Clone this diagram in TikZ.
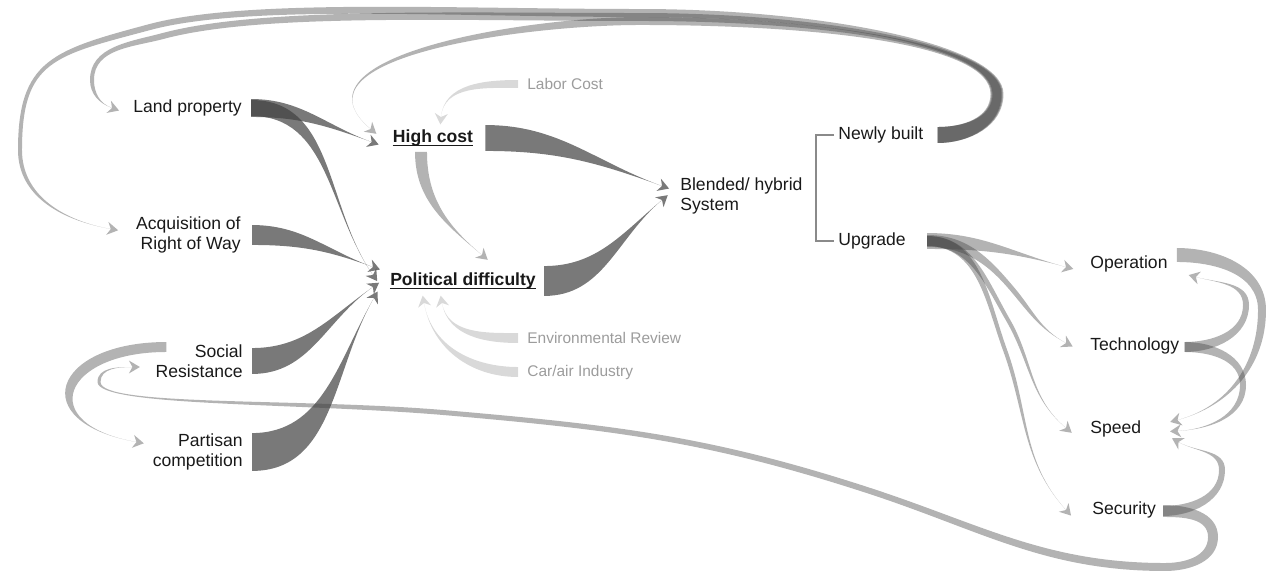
\documentclass[tikz,border=0pt]{standalone}
\usepackage{fontspec}
\setmainfont{Liberation Sans}
\usetikzlibrary{calc}
\definecolor{flowgray}{HTML}{404040}
\definecolor{labelgray}{HTML}{9C9C9C}
\definecolor{bracketgray}{HTML}{8A8A8A}

\tikzset{chev/.pic={\fill (-3.5,-6.5) -- (7.5,0) -- (-3.5,6.5) -- (0,0) -- cycle;}}

% left/right edge points of a band at a waypoint
\newcommand{\wpt}[4]{%
  \coordinate (#1l) at ($(#2)+({#3+90}:{#4*0.5669pt})$);%
  \coordinate (#1r) at ($(#2)+({#3-90}:{#4*0.5669pt})$);}

% tapered band: [to options]{style}{from}{heading}{half width}{to}{heading}
\newcommand{\flow}[7][]{%
  \pgfmathsetmacro\flowback{#7+180}%
  \begin{scope}[flowband,#2]
    \fill ($(#3)+({#4+90}:{#5*0.5669pt})$) to[out=#4,in=\flowback,#1] (#6)
      to[out=\flowback,in=#4,#1] ($(#3)+({#4-90}:{#5*0.5669pt})$) -- cycle;
    \pic[rotate=#7] at (#6) {chev};
  \end{scope}}

% tapered band through one waypoint
\newcommand{\loopflow}[9]{%
  \pgfmathsetmacro\flowmid{#6+180}\pgfmathsetmacro\flowback{#9+180}%
  \begin{scope}[flowband,#1]
    \wpt{lfa}{#2}{#3}{#4}\wpt{lfb}{#5}{#6}{#7}
    \fill (lfal) to[out=#3,in=\flowmid] (lfbl) to[out=#6,in=\flowback] (#8)
      to[out=\flowback,in=#6] (lfbr) to[out=\flowmid,in=#3] (lfar) -- cycle;
    \pic[rotate=#9] at (#8) {chev};
  \end{scope}}

\begin{document}
\begin{tikzpicture}[x=0.02cm,y=-0.02cm,
  lbl/.style={font=\fontsize{10}{11.5}\selectfont,inner sep=0pt,text=black!90},
  key/.style={font=\fontsize{10}{11.5}\selectfont\bfseries,inner sep=0pt,text=black!90},
  minor/.style={font=\fontsize{8.8}{10}\selectfont,inner sep=0pt,text=labelgray},
  uline/.style={draw=black!90,line width=0.8pt},
  darkflow/.style={fill opacity=0.7},
  midflow/.style={fill opacity=0.4},
  paleflow/.style={fill opacity=0.2},
  flowband/.style={fill=flowgray},
  bracket/.style={draw=bracketgray,line width=0.6pt}]
\useasboundingbox (0,0) rectangle (1266,574);

\node[lbl,anchor=west] (land) at (133,108) {Land property};
\node[lbl,anchor=east,align=right] (acq) at (241,235) {Acquisition of\\Right of Way};
\node[lbl,anchor=east,align=right] (social) at (243,361) {Social\\Resistance};
\node[lbl,anchor=east,align=right] (partisan) at (243,452) {Partisan\\competition};
\node[key] (hcost) at (433,138) {High cost};
\node[key] (pol) at (463,281) {Political difficulty};
\node[minor,anchor=west] (labor) at (527,84) {Labor Cost};
\node[minor,anchor=west] (env) at (527,338) {Environmental Review};
\node[minor,anchor=west] (car) at (527,372) {Car/air Industry};
\node[lbl,anchor=west,align=left] (blend) at (680,196) {Blended/ hybrid\\System};
\node[lbl,anchor=west] (newly) at (838,135) {Newly built};
\node[lbl,anchor=west] (upgrade) at (838,241) {Upgrade};
\node[lbl,anchor=west] (operation) at (1090,264) {Operation};
\node[lbl,anchor=west] (technology) at (1090,346) {Technology};
\node[lbl,anchor=west] (speed) at (1090,429) {Speed};
\node[lbl,anchor=west] (security) at (1092,510) {Security};

\draw[uline] ($(hcost.base west)+(0,3)$) -- ($(hcost.base east)+(0,3)$);
\draw[uline] ($(pol.base west)+(0,3)$) -- ($(pol.base east)+(0,3)$);
\draw[bracket] ($(newly.west)+(-4,0)$) -- ++(-18,0) |- ($(upgrade.west)+(-4,0)$);

\coordinate (lp-o) at ($(land.east)+(9,0)$);
\coordinate (lp-i) at ($(land.west)+(-21,0)$);
\coordinate (acq-o) at ($(acq.east)+(11,0)$);
\coordinate (acq-i) at ($(acq.west)+(-25,-6)$);
\coordinate (soc-o) at ($(social.east)+(9,0)$);
\coordinate (soc-l) at ($(social.west)+(11,-14)$);
\coordinate (soc-i) at ($(social.west)+(-23,6)$);
\coordinate (par-o) at ($(partisan.east)+(9,0)$);
\coordinate (par-i) at ($(partisan.west)+(-16,-10)$);
\coordinate (hc-o) at ($(hcost.east)+(12,0)$);
\coordinate (hc-d) at ($(hcost.center)+(-12,14)$);
\coordinate (hc-i1) at ($(hcost.west)+(-22,-9)$);
\coordinate (hc-i2) at ($(hcost.west)+(-21,4)$);
\coordinate (hc-i3) at ($(hcost.center)+(8,-21)$);
\coordinate (lab-o) at ($(labor.west)+(-9,0)$);
\coordinate (pd-o) at ($(pol.east)+(8,0)$);
\coordinate (pd-i1) at ($(pol.west)+(-17,-14)$);
\coordinate (pd-i2) at ($(pol.west)+(-17,-6)$);
\coordinate (pd-i3) at ($(pol.west)+(-17,6)$);
\coordinate (pd-i4) at ($(pol.west)+(-16,17)$);
\coordinate (pd-i5) at ($(pol.center)+(19,-26)$);
\coordinate (pd-i6) at ($(pol.center)+(-21,22)$);
\coordinate (pd-i7) at ($(pol.center)+(-39,22)$);
\coordinate (env-o) at ($(env.west)+(-9,0)$);
\coordinate (car-o) at ($(car.west)+(-9,0)$);
\coordinate (bl-i1) at ($(blend.west)+(-18,-10)$);
\coordinate (bl-i2) at ($(blend.west)+(-18,4)$);
\coordinate (nb-o) at ($(newly.east)+(14,0)$);
\coordinate (up-o) at ($(upgrade.east)+(21,0)$);
\coordinate (op-o) at ($(operation.east)+(9,-9)$);
\coordinate (op-i) at ($(operation.west)+(-24,3)$);
\coordinate (op-i2) at ($(operation.east)+(28,13)$);
\coordinate (tech-o) at ($(technology.east)+(5,1)$);
\coordinate (tech-i) at ($(technology.west)+(-24,-3)$);
\coordinate (sp-i) at ($(speed.west)+(-24,-1)$);
\coordinate (sp-i1) at ($(speed.east)+(36,-9)$);
\coordinate (sp-i2) at ($(speed.east)+(36,2)$);
\coordinate (sp-i3) at ($(speed.east)+(37,13)$);
\coordinate (sec-o) at ($(security.east)+(7,1)$);
\coordinate (sec-i) at ($(security.west)+(-26,0)$);

% causes
\flow{darkflow}{lp-o}{0}{9}{hc-i2}{-20}
\flow{darkflow}{lp-o}{0}{8}{pd-i2}{-55}
\flow{darkflow}{acq-o}{0}{10}{pd-i1}{-20}
\flow{darkflow}{soc-o}{0}{13}{pd-i3}{35}
\flow{darkflow}{par-o}{0}{19}{pd-i4}{60}
\flow{darkflow}{hc-o}{0}{13}{bl-i1}{-20}
\flow{darkflow}{pd-o}{0}{15}{bl-i2}{40}
\flow{midflow}{hc-d}{270}{6}{pd-i5}{-40}
\flow{paleflow}{lab-o}{180}{4}{hc-i3}{265}
\flow{paleflow}{env-o}{180}{5}{pd-i6}{100}
\flow{paleflow}{car-o}{180}{5}{pd-i7}{100}
\flow[looseness=2.8]{midflow}{soc-l}{180}{5}{par-i}{-10}

% upgrade
\flow{midflow}{up-o}{0}{8}{op-i}{-15}
\loopflow{midflow}{up-o}{0}{6}{1013,290}{-50}{2.5}{tech-i}{-28}
\loopflow{midflow}{up-o}{0}{5}{1008,320}{-60}{2}{sp-i}{-40}
\loopflow{midflow}{up-o}{0}{5}{1005,350}{-70}{2}{sec-i}{-48}
\loopflow{midflow}{op-o}{0}{7}{1262,310}{270}{4}{sp-i1}{195}
\loopflow{midflow}{tech-o}{0}{5}{1246,305}{90}{3}{op-i2}{165}
\loopflow{midflow}{tech-o}{0}{5}{1243,385}{270}{3}{sp-i2}{183}
\loopflow{midflow}{sec-o}{0}{5}{1222,470}{90}{3}{sp-i3}{150}

% newly built, back over the top
\wpt{n0}{nb-o}{0}{8}
\wpt{a1}{998,94}{90}{5.5}\wpt{a2}{640,13}{180}{4}\wpt{a3}{150,27}{195}{3}\wpt{a4}{20,150}{270}{2}
\wpt{b1}{997,94}{90}{5.5}\wpt{b2}{640,17}{180}{4}\wpt{b3}{163,36}{195}{3}\wpt{b4}{92,80}{270}{2}
\wpt{c1}{996,94}{90}{5.5}\wpt{c2}{640,21}{180}{4}
\begin{scope}[flowband,midflow]
\fill (n0l) to[out=0,in=270] (a1l) to[out=90,in=0,out distance=1cm,in distance=3.6cm] (a2l)
  to[out=180,in=15,out distance=3.8cm,in distance=2cm] (a3l)
  to[out=195,in=90,out distance=2cm,in distance=1.8cm] (a4l) to[out=270,in=170] (acq-i)
  to[out=170,in=270] (a4r) to[out=90,in=195,out distance=1.8cm,in distance=2cm] (a3r)
  to[out=15,in=180,out distance=2cm,in distance=3.8cm] (a2r)
  to[out=0,in=90,out distance=3.6cm,in distance=1cm] (a1r) to[out=270,in=0] (n0r) -- cycle;
\pic[rotate=-10] at (acq-i) {chev};
\end{scope}
\begin{scope}[flowband,midflow]
\fill (n0l) to[out=0,in=270] (b1l) to[out=90,in=0,out distance=1cm,in distance=3.6cm] (b2l)
  to[out=180,in=15,out distance=3.8cm,in distance=2cm] (b3l)
  to[out=195,in=90] (b4l) to[out=270,in=160] (lp-i)
  to[out=160,in=270] (b4r) to[out=90,in=195] (b3r)
  to[out=15,in=180,out distance=2cm,in distance=3.8cm] (b2r)
  to[out=0,in=90,out distance=3.6cm,in distance=1cm] (b1r) to[out=270,in=0] (n0r) -- cycle;
\pic[rotate=-20] at (lp-i) {chev};
\end{scope}
\begin{scope}[flowband,midflow]
\fill (n0l) to[out=0,in=270] (c1l) to[out=90,in=0,out distance=1cm,in distance=3.6cm] (c2l)
  to[out=180,in=140] (hc-i1) to[out=140,in=180] (c2r)
  to[out=0,in=90,out distance=3.6cm,in distance=1cm] (c1r) to[out=270,in=0] (n0r) -- cycle;
\pic[rotate=-40] at (hc-i1) {chev};
\end{scope}

% security, back along the bottom
\wpt{d0}{sec-o}{0}{6}\wpt{d1}{1213,537}{270}{5}\wpt{d2}{1165,567}{180}{4}
\wpt{d3}{867,490}{162}{3}\wpt{d4}{449,413}{175}{2.5}\wpt{d5}{99,382}{90}{1.5}
\begin{scope}[flowband,midflow]
\fill (d0l) to[out=0,in=90] (d1l) to[out=270,in=0] (d2l) to[out=180,in=342] (d3l)
  to[out=162,in=355] (d4l) to[out=175,in=270,out distance=3cm,in distance=0.5cm] (d5l)
  to[out=90,in=180] (soc-i) to[out=180,in=90] (d5r)
  to[out=270,in=175,out distance=0.5cm,in distance=3cm] (d4r) to[out=355,in=162] (d3r)
  to[out=342,in=180] (d2r) to[out=0,in=270] (d1r) to[out=90,in=0] (d0r) -- cycle;
\pic at (soc-i) {chev};
\end{scope}
\end{tikzpicture}
\end{document}
